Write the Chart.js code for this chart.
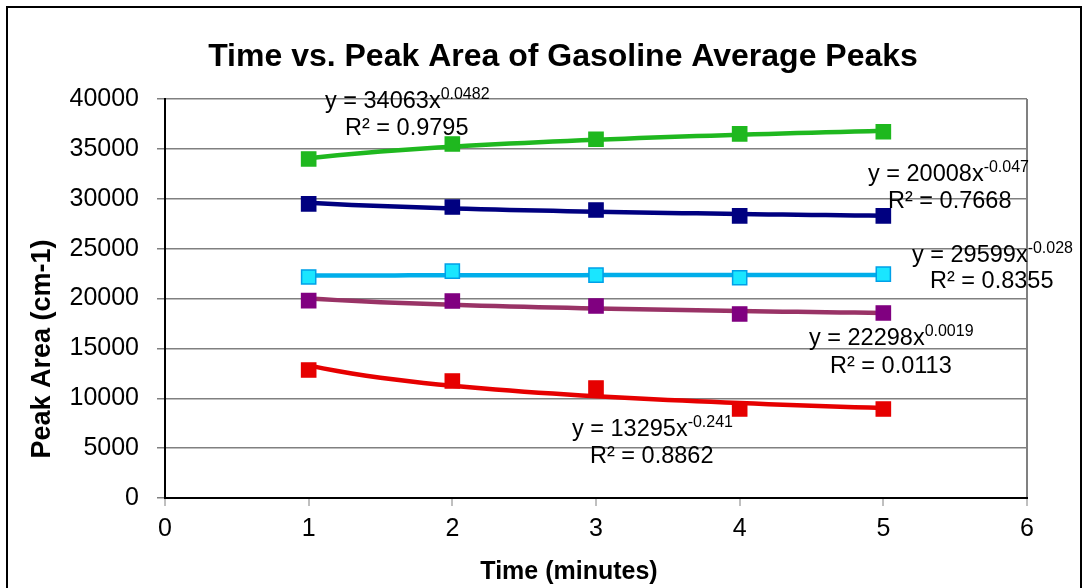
<!DOCTYPE html>
<html>
<head>
<meta charset="utf-8">
<script src="https://cdn.jsdelivr.net/npm/chart.js@4.4.1/dist/chart.umd.min.js"></script>
<style>
  html, body { margin: 0; padding: 0; background: #fff; overflow: hidden; }
  #frame { position: absolute; left: 6px; top: 6px; width: 1072px; height: 600px; border: 2px solid #000; }
  #chart { position: absolute; left: 0; top: 0; }
</style>
</head>
<body>
<div id="frame"></div>
<canvas id="chart" width="1082" height="588"></canvas>
<script>
// data
const times = [1, 2, 3, 4, 5];
const greenArea = [33990, 35490, 35960, 36500, 36720];
const navyArea = [29480, 29170, 28870, 28280, 28280];
const cyanArea = [22160, 22750, 22350, 22080, 22450];
const purpleArea = [19780, 19750, 19250, 18450, 18550];
const redArea = [12830, 11730, 11030, 8920, 8920];

// power trendlines printed on the chart: y = a * x^b
const trendA = [34063, 29599, 22298, 20008, 13295];
const trendB = [0.0482, -0.028, 0.0019, -0.047, -0.241];
const trendR2 = ["0.9795", "0.8355", "0.0113", "0.7668", "0.8862"];

const xTicks = [0, 1, 2, 3, 4, 5, 6];
const yTicks = [0, 5000, 10000, 15000, 20000, 25000, 30000, 35000, 40000];

const markerFill = ["#1fb81f", "#000080", "#1ae6ff", "#800080", "#e60000"];
const markerEdge = ["#1fb81f", "#000080", "#00a0e8", "#800080", "#e60000"];
const lineColors = ["#1fb81f", "#000080", "#00aeea", "#993366", "#e60000"];
const seriesValues = [greenArea, navyArea, cyanArea, purpleArea, redArea];

// equation labels (left x, baseline y) in the order Excel put them
const labelSpots = [
  { i: 0, x: 325, y: 108, rx: 345, ry: 135 },
  { i: 3, x: 868, y: 181, rx: 888, ry: 208 },
  { i: 1, x: 912, y: 262, rx: 930, ry: 288 },
  { i: 2, x: 809, y: 345, rx: 830, ry: 373 },
  { i: 4, x: 572, y: 436, rx: 590, ry: 463 }
];

function trendPoints(a, b) {
  const pts = [];
  for (let k = 0; k <= 40; k++) {
    const x = 1 + k * 0.1;
    pts.push({ x: x, y: a * Math.pow(x, b) });
  }
  return pts;
}

const datasets = [];
seriesValues.forEach((vals, i) => {
  datasets.push({
    data: times.map((t, j) => ({ x: t, y: vals[j] })),
    showLine: false,
    pointStyle: 'rect',
    pointRadius: 10,
    pointHoverRadius: 10,
    pointBackgroundColor: markerFill[i],
    pointBorderColor: markerEdge[i],
    pointBorderWidth: 1.5,
    order: 0
  });
});
trendA.forEach((a, i) => {
  datasets.push({
    data: trendPoints(a, trendB[i]),
    showLine: true,
    borderColor: lineColors[i],
    borderWidth: 4.5,
    pointRadius: 0,
    tension: 0,
    order: 1
  });
});

const textPlugin = {
  id: 'chartText',
  afterDraw(chart) {
    const ctx = chart.ctx;
    ctx.save();
    ctx.fillStyle = '#000';
    ctx.textBaseline = 'alphabetic';

    // main title
    ctx.font = 'bold 32px "Liberation Sans", Arial, sans-serif';
    ctx.textAlign = 'center';
    ctx.fillText('Time vs. Peak Area of Gasoline Average Peaks', 563, 66);

    // axis titles
    ctx.font = 'bold 25px "Liberation Sans", Arial, sans-serif';
    ctx.fillText('Time (minutes)', 569, 579);
    ctx.font = 'bold 27px "Liberation Sans", Arial, sans-serif';
    ctx.translate(50, 349);
    ctx.rotate(-Math.PI / 2);
    ctx.fillText('Peak Area (cm-1)', 0, 0);
    ctx.setTransform(1, 0, 0, 1, 0, 0);

    // trendline equations
    ctx.textAlign = 'left';
    labelSpots.forEach(s => {
      const main = 'y = ' + trendA[s.i] + 'x';
      ctx.font = '23.5px "Liberation Sans", Arial, sans-serif';
      ctx.fillText(main, s.x, s.y);
      const w = ctx.measureText(main).width;
      ctx.font = '16px "Liberation Sans", Arial, sans-serif';
      ctx.fillText(String(trendB[s.i]), s.x + w, s.y - 9);
      ctx.font = '23.5px "Liberation Sans", Arial, sans-serif';
      ctx.fillText('R\u00b2 = ' + trendR2[s.i], s.rx, s.ry);
    });
    ctx.restore();
  }
};

new Chart(document.getElementById('chart'), {
  type: 'scatter',
  data: { datasets: datasets },
  options: {
    responsive: false,
    animation: false,
    layout: { padding: { top: 99, right: 55, left: 0, bottom: 0 } },
    plugins: {
      legend: { display: false },
      tooltip: { enabled: false },
      title: { display: false }
    },
    scales: {
      x: {
        type: 'linear',
        min: xTicks[0],
        max: xTicks[xTicks.length - 1],
        afterBuildTicks: s => { s.ticks = xTicks.map(v => ({ value: v })); },
        afterFit: s => { s.height = 90; },
        ticks: {
          color: '#000',
          padding: 8,
          maxRotation: 0,
          font: { family: '"Liberation Sans", Arial, sans-serif', size: 25 }
        },
        grid: {
          drawOnChartArea: true,
          color: c => (c.tick && c.tick.value === 6 ? '#808080' : 'rgba(0,0,0,0)'),
          lineWidth: 2,
          tickColor: '#808080',
          tickLength: 8,
          tickWidth: 1
        },
        border: { color: '#000', width: 2 }
      },
      y: {
        min: yTicks[0],
        max: yTicks[yTicks.length - 1],
        afterBuildTicks: s => { s.ticks = yTicks.map(v => ({ value: v })); },
        afterFit: s => { s.width = 165; },
        ticks: {
          color: '#000',
          padding: 18,
          font: { family: '"Liberation Sans", Arial, sans-serif', size: 25 },
          callback: v => String(v)
        },
        grid: {
          color: '#808080',
          lineWidth: 1.5,
          tickColor: '#808080',
          tickLength: 8
        },
        border: { color: '#000', width: 2 }
      }
    }
  },
  plugins: [textPlugin]
});
</script>
</body>
</html>
